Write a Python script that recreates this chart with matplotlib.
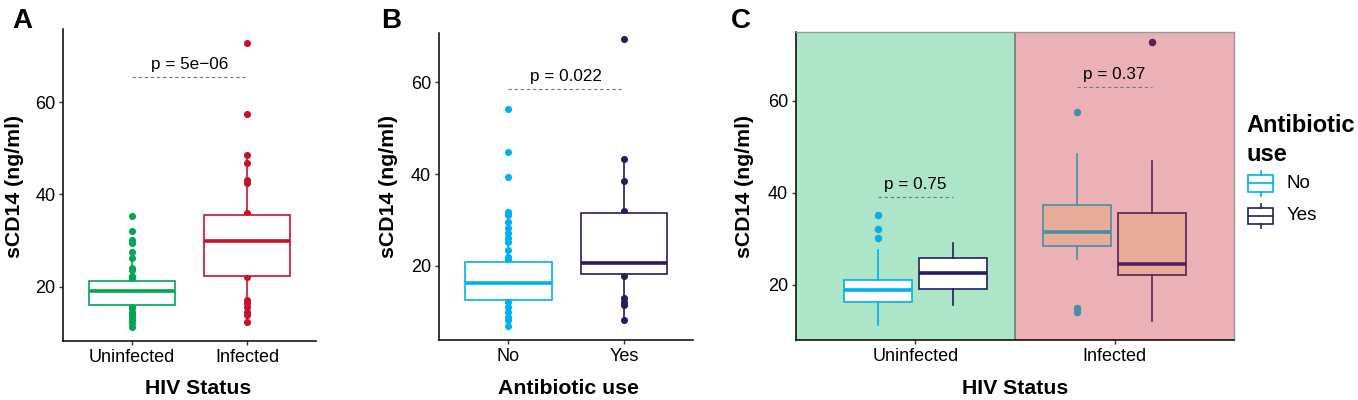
import matplotlib
matplotlib.use('Agg')
import matplotlib.pyplot as plt
from matplotlib.patches import Rectangle
from matplotlib.lines import Line2D

plt.rcParams['font.family'] = ['Liberation Sans', 'DejaVu Sans']

W, H = 1358, 400

# ---- panel A: sCD14 by HIV status ----
hiv_groups = ['Uninfected', 'Infected']
hiv_colors = ['#00a651', '#c8102e']
hiv_whislo = [11.3, 12.3]
hiv_q1 = [16.0, 22.3]
hiv_med = [19.0, 29.8]
hiv_q3 = [21.2, 35.6]
hiv_whishi = [27.6, 48.5]
hiv_pts_unin = [11.3, 12.2, 12.8, 13.4, 14.0, 14.6, 15.3, 16.0,
                21.8, 22.3, 23.6, 24.1, 26.2, 27.6, 29.4, 30.1, 32.1, 35.3]
hiv_pts_inf = [12.3, 13.9, 14.6, 15.5, 16.4, 17.1, 22.2,
               35.9, 42.4, 43.1, 46.9, 48.5, 57.5, 72.8]
hiv_p = 'p = 5e\u221206'
hiv_p_y = 65.4

# ---- panel B: sCD14 by antibiotic use ----
abx_groups = ['No', 'Yes']
abx_colors = ['#00b0f0', '#241f5e']
abx_whislo = [6.8, 8.2]
abx_q1 = [12.5, 18.1]
abx_med = [16.2, 20.5]
abx_q3 = [20.9, 31.4]
abx_whishi = [31.8, 43.3]
abx_pts_no = [6.8, 8.2, 8.9, 10.0, 11.1, 12.1,
              21.2, 22.0, 23.4, 25.2, 26.0, 27.1, 28.2, 29.6, 31.1, 31.8,
              39.4, 44.7, 54.1]
abx_pts_yes = [8.2, 11.4, 12.1, 12.9, 17.8, 32.0, 38.5, 43.3, 69.4]
abx_p = 'p = 0.022'
abx_p_y = 58.5

# ---- panel C: HIV status x antibiotic use ----
# order: Uninfected/No, Uninfected/Yes, Infected/No, Infected/Yes
c_whislo = [11.3, 15.7, 25.6, 12.2]
c_q1 = [16.2, 19.1, 28.5, 22.2]
c_med = [18.9, 22.5, 31.4, 24.5]
c_q3 = [21.1, 25.9, 37.4, 35.6]
c_whishi = [27.7, 29.2, 48.5, 47.0]
c_fliers = [[30.1, 32.2, 35.2], [], [14.1, 14.9, 57.6], [72.9]]
c_edge = ['#00b0f0', '#241f5e', '#4a8fa5', '#5c1f55']
c_face = ['white', 'white', '#e8ad9a', '#e8ad9a']
c_p = ['p = 0.75', 'p = 0.37']
c_p_y = [39.1, 63.0]

fig = plt.figure(figsize=(W / 100, H / 100), dpi=100)


def fx(x):
    return x / W


def fy(y):
    return 1 - y / H


def add_ax(left, top, right, bottom):
    return fig.add_axes([fx(left), fy(bottom), fx(right) - fx(left), fy(top) - fy(bottom)])


def box(ax, pos, lo, q1, med, q3, hi, fliers, color, face, width):
    st = [dict(whislo=lo, q1=q1, med=med, q3=q3, whishi=hi, fliers=fliers)]
    ax.bxp(st, positions=[pos], widths=width, patch_artist=True, showcaps=False,
           showfliers=len(fliers) > 0,
           boxprops=dict(facecolor=face, edgecolor=color, linewidth=1.2),
           whiskerprops=dict(color=color, linewidth=1.2),
           medianprops=dict(color=color, linewidth=2.6, solid_capstyle='butt'),
           flierprops=dict(marker='o', markerfacecolor=color, markeredgecolor=color,
                           markersize=5.4, markeredgewidth=0),
           manage_ticks=False, zorder=3)


def style(ax, labels, ylim):
    ax.set_xlim(0.4, 2.6)
    ax.set_ylim(*ylim)
    ax.set_xticks([1, 2])
    ax.set_xticklabels(labels)
    ax.set_yticks([20, 40, 60])
    ax.tick_params(labelsize=13, length=3.2, width=1.0, color='#333333', pad=2.5,
                   labelcolor='black')
    for s in ['top', 'right']:
        ax.spines[s].set_visible(False)
    for s in ['left', 'bottom']:
        ax.spines[s].set_linewidth(1.1)
        ax.spines[s].set_color('black')


def p_label(ax, x0, x1, y, txt):
    ax.plot([x0, x1], [y, y], ls=(0, (3, 2.5)), lw=0.8, color='#777777', zorder=4)
    ax.annotate(txt, xy=((x0 + x1) / 2, y), xytext=(0, 9.3), textcoords='offset points',
                ha='center', va='center', fontsize=12.3, zorder=5)


# A
axA = add_ax(63.3, 29.3, 316, 340.7)
for i, pts in enumerate([hiv_pts_unin, hiv_pts_inf]):
    axA.scatter([i + 1] * len(pts), pts, s=26, color=hiv_colors[i], zorder=2, lw=0)
    box(axA, i + 1, hiv_whislo[i], hiv_q1[i], hiv_med[i], hiv_q3[i], hiv_whishi[i], [],
        hiv_colors[i], 'white', 0.75)
p_label(axA, 1, 2, hiv_p_y, hiv_p)
style(axA, hiv_groups, (8.29, 75.8))

# B
axB = add_ax(439, 33.3, 693.3, 340)
for i, pts in enumerate([abx_pts_no, abx_pts_yes]):
    axB.scatter([i + 1] * len(pts), pts, s=26, color=abx_colors[i], zorder=2, lw=0)
    box(axB, i + 1, abx_whislo[i], abx_q1[i], abx_med[i], abx_q3[i], abx_whishi[i], [],
        abx_colors[i], 'white', 0.75)
p_label(axB, 1, 2, abx_p_y, abx_p)
style(axB, abx_groups, (3.8, 70.7))

# C
axC = add_ax(796, 32.3, 1234, 340)
axC.axvspan(0.4, 1.5, color='#ade5c8', zorder=0, lw=0)
axC.axvspan(1.5, 2.6, color='#ebb1b7', zorder=0, lw=0)
axC.axvline(1.5, color='#7a7a7a', lw=1.2, zorder=1)
offs = [-0.1875, 0.1875]
for k in range(4):
    g, a = divmod(k, 2)
    box(axC, g + 1 + offs[a], c_whislo[k], c_q1[k], c_med[k], c_q3[k], c_whishi[k],
        c_fliers[k], c_edge[k], c_face[k], 0.34)
for g in range(2):
    p_label(axC, g + 1 + offs[0], g + 1 + offs[1], c_p_y[g], c_p[g])
style(axC, hiv_groups, (8.04, 74.9))
for s in ['top', 'right']:
    axC.spines[s].set_visible(True)
    axC.spines[s].set_color('#9a9a9a')
    axC.spines[s].set_linewidth(1.0)

# axis titles
lab = dict(fontsize=15.3, fontweight='bold', ha='center', va='center')
fig.text(fx(15), fy(186.7), 'sCD14 (ng/ml)', rotation=90, **lab)
fig.text(fx(388.5), fy(186.7), 'sCD14 (ng/ml)', rotation=90, **lab)
fig.text(fx(744), fy(186.7), 'sCD14 (ng/ml)', rotation=90, **lab)
fig.text(fx(198.3), fy(388), 'HIV Status', **lab)
fig.text(fx(568), fy(388), 'Antibiotic use', **lab)
fig.text(fx(1015.5), fy(388), 'HIV Status', **lab)

# panel letters
for x, t in [(12, 'A'), (381, 'B'), (731, 'C')]:
    fig.text(fx(x), fy(8), t, fontsize=20, fontweight='bold', ha='left', va='top')

# legend
fig.text(fx(1246), fy(132.5), 'Antibiotic', fontsize=17, fontweight='bold', va='baseline')
fig.text(fx(1246), fy(161), 'use', fontsize=17, fontweight='bold', va='baseline')
for (yc, t, c) in [(183.3, 'No', abx_colors[0]), (216, 'Yes', abx_colors[1])]:
    fig.add_artist(Rectangle((fx(1248), fy(yc + 8.3)), fx(25), 16.6 / H, transform=fig.transFigure,
                             facecolor='white', edgecolor=c, lw=1.2))
    fig.add_artist(Line2D([fx(1248), fx(1273)], [fy(yc), fy(yc)], transform=fig.transFigure,
                          color=c, lw=1.2))
    fig.add_artist(Line2D([fx(1260.5), fx(1260.5)], [fy(yc - 12.3), fy(yc - 8.3)],
                          transform=fig.transFigure, color=c, lw=1.2))
    fig.add_artist(Line2D([fx(1260.5), fx(1260.5)], [fy(yc + 8.3), fy(yc + 12.3)],
                          transform=fig.transFigure, color=c, lw=1.2))
    fig.text(fx(1287), fy(yc), t, fontsize=13.5, va='center', ha='left')

fig.savefig('out.png', dpi=100)
